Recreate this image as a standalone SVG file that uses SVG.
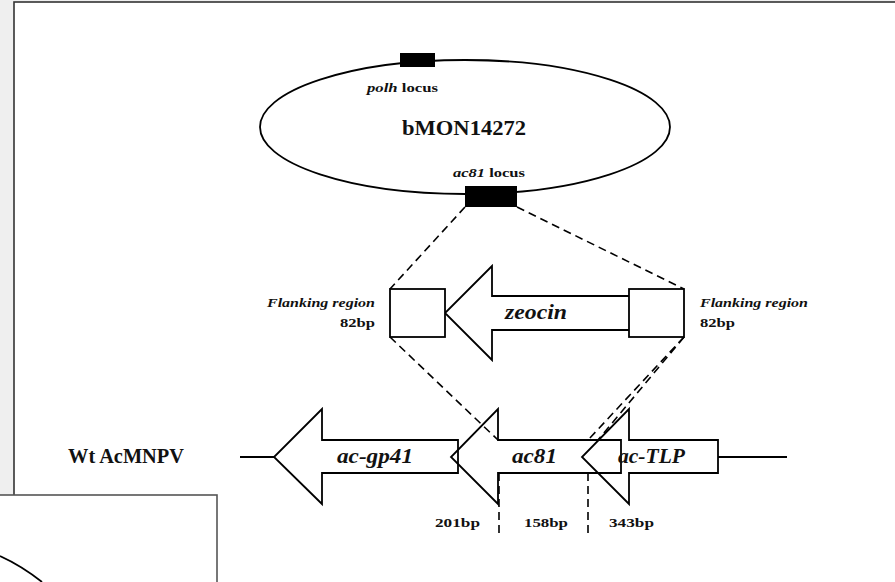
<svg xmlns="http://www.w3.org/2000/svg" width="895" height="582" viewBox="0 0 895 582">
<style>
.ln{fill:none;stroke:#000;stroke-width:1.8;stroke-linejoin:miter}
.sh{fill:#fff;stroke:#000;stroke-width:1.8}
.ds{fill:none;stroke:#000;stroke-width:1.6;stroke-dasharray:8 5}
.t{font-family:"Liberation Serif","DejaVu Serif",serif;font-weight:bold;fill:#111}
.i{font-style:italic}
</style>
<rect x="0" y="0" width="895" height="582" fill="#efefef"/>
<rect id="frame" x="14" y="2" width="890" height="600" fill="#fff" stroke="#333" stroke-width="1.6"/>

<g id="plasmid">
<ellipse cx="465" cy="127" rx="205" ry="67" class="ln"/>
<rect x="400" y="53" width="35" height="14" fill="#000"/>
<rect x="465" y="186" width="52" height="21" fill="#000"/>
<text class="t" x="367" y="92" font-size="13.5" textLength="71" lengthAdjust="spacingAndGlyphs"><tspan class="i">polh</tspan> locus</text>
<text class="t" x="402" y="135" font-size="22" textLength="124" lengthAdjust="spacingAndGlyphs">bMON14272</text>
<text class="t" x="453" y="177" font-size="13.5" textLength="72" lengthAdjust="spacingAndGlyphs"><tspan class="i">ac81</tspan> locus</text>
</g>

<g id="connectors">
<line class="ds" x1="465" y1="207" x2="390" y2="289"/>
<line class="ds" x1="517" y1="207" x2="684" y2="289"/>
<line class="ds" x1="390" y1="337" x2="498" y2="440"/>
<line class="ds" x1="684" y1="337" x2="588" y2="440"/>
<line class="ds" x1="684" y1="337" x2="598" y2="440"/>
<line class="ds" x1="499" y1="473" x2="499" y2="533"/>
<line class="ds" x1="588" y1="473" x2="588" y2="533"/>
</g>

<g id="zeocin">
<path class="sh" d="M629,296 L492,296 L492,266 L445,313 L492,360 L492,330 L629,330"/>
<text class="t i" x="505" y="319" font-size="21" textLength="62" lengthAdjust="spacingAndGlyphs">zeocin</text>
</g>
<g id="flank-left">
<rect class="sh" x="390" y="289" width="55" height="48"/>
<text class="t i" x="375" y="307" font-size="13.5" text-anchor="end" textLength="108" lengthAdjust="spacingAndGlyphs">Flanking region</text>
<text class="t" x="375" y="327" font-size="13.5" text-anchor="end" textLength="35" lengthAdjust="spacingAndGlyphs">82bp</text>
</g>
<g id="flank-right">
<rect class="sh" x="629" y="289" width="55" height="48"/>
<text class="t i" x="700" y="307" font-size="13.5" textLength="108" lengthAdjust="spacingAndGlyphs">Flanking region</text>
<text class="t" x="700" y="327" font-size="13.5" textLength="35" lengthAdjust="spacingAndGlyphs">82bp</text>
</g>

<g id="genome">
<text class="t" x="68" y="463" font-size="20" textLength="116" lengthAdjust="spacingAndGlyphs">Wt AcMNPV</text>
<line class="ln" x1="240" y1="457" x2="274" y2="457"/>
<line class="ln" x1="718" y1="457" x2="787" y2="457"/>
</g>
<g id="gene-gp41">
<path class="ln" d="M458,440 L322,440 L322,409 L274,457 L322,504 L322,473 L458,473 Z"/>
<text class="t i" x="337" y="463" font-size="21" textLength="76" lengthAdjust="spacingAndGlyphs">ac-gp41</text>
</g>
<g id="gene-ac81">
<path class="ln" d="M621,440 L498,440 L498,409 L451,457 L498,504 L498,473 L621,473 Z"/>
<text class="t i" x="512" y="463" font-size="21" textLength="45" lengthAdjust="spacingAndGlyphs">ac81</text>
</g>
<g id="gene-tlp">
<path class="ln" d="M718,440 L629,440 L629,409 L582,457 L629,504 L629,473 L718,473 Z"/>
<text class="t i" x="618" y="463" font-size="21" textLength="67" lengthAdjust="spacingAndGlyphs">ac-TLP</text>
</g>
<g id="sizes">
<text class="t" x="435" y="527" font-size="13.5" textLength="45" lengthAdjust="spacingAndGlyphs">201bp</text>
<text class="t" x="524" y="527" font-size="13.5" textLength="44" lengthAdjust="spacingAndGlyphs">158bp</text>
<text class="t" x="609" y="527" font-size="13.5" textLength="45" lengthAdjust="spacingAndGlyphs">343bp</text>
</g>

<g id="inset">
<rect x="-2" y="495" width="219" height="100" fill="#fff" stroke="#555" stroke-width="1.6"/>
<path class="ln" d="M0,556 Q22,566 42,582"/>
</g>
</svg>
